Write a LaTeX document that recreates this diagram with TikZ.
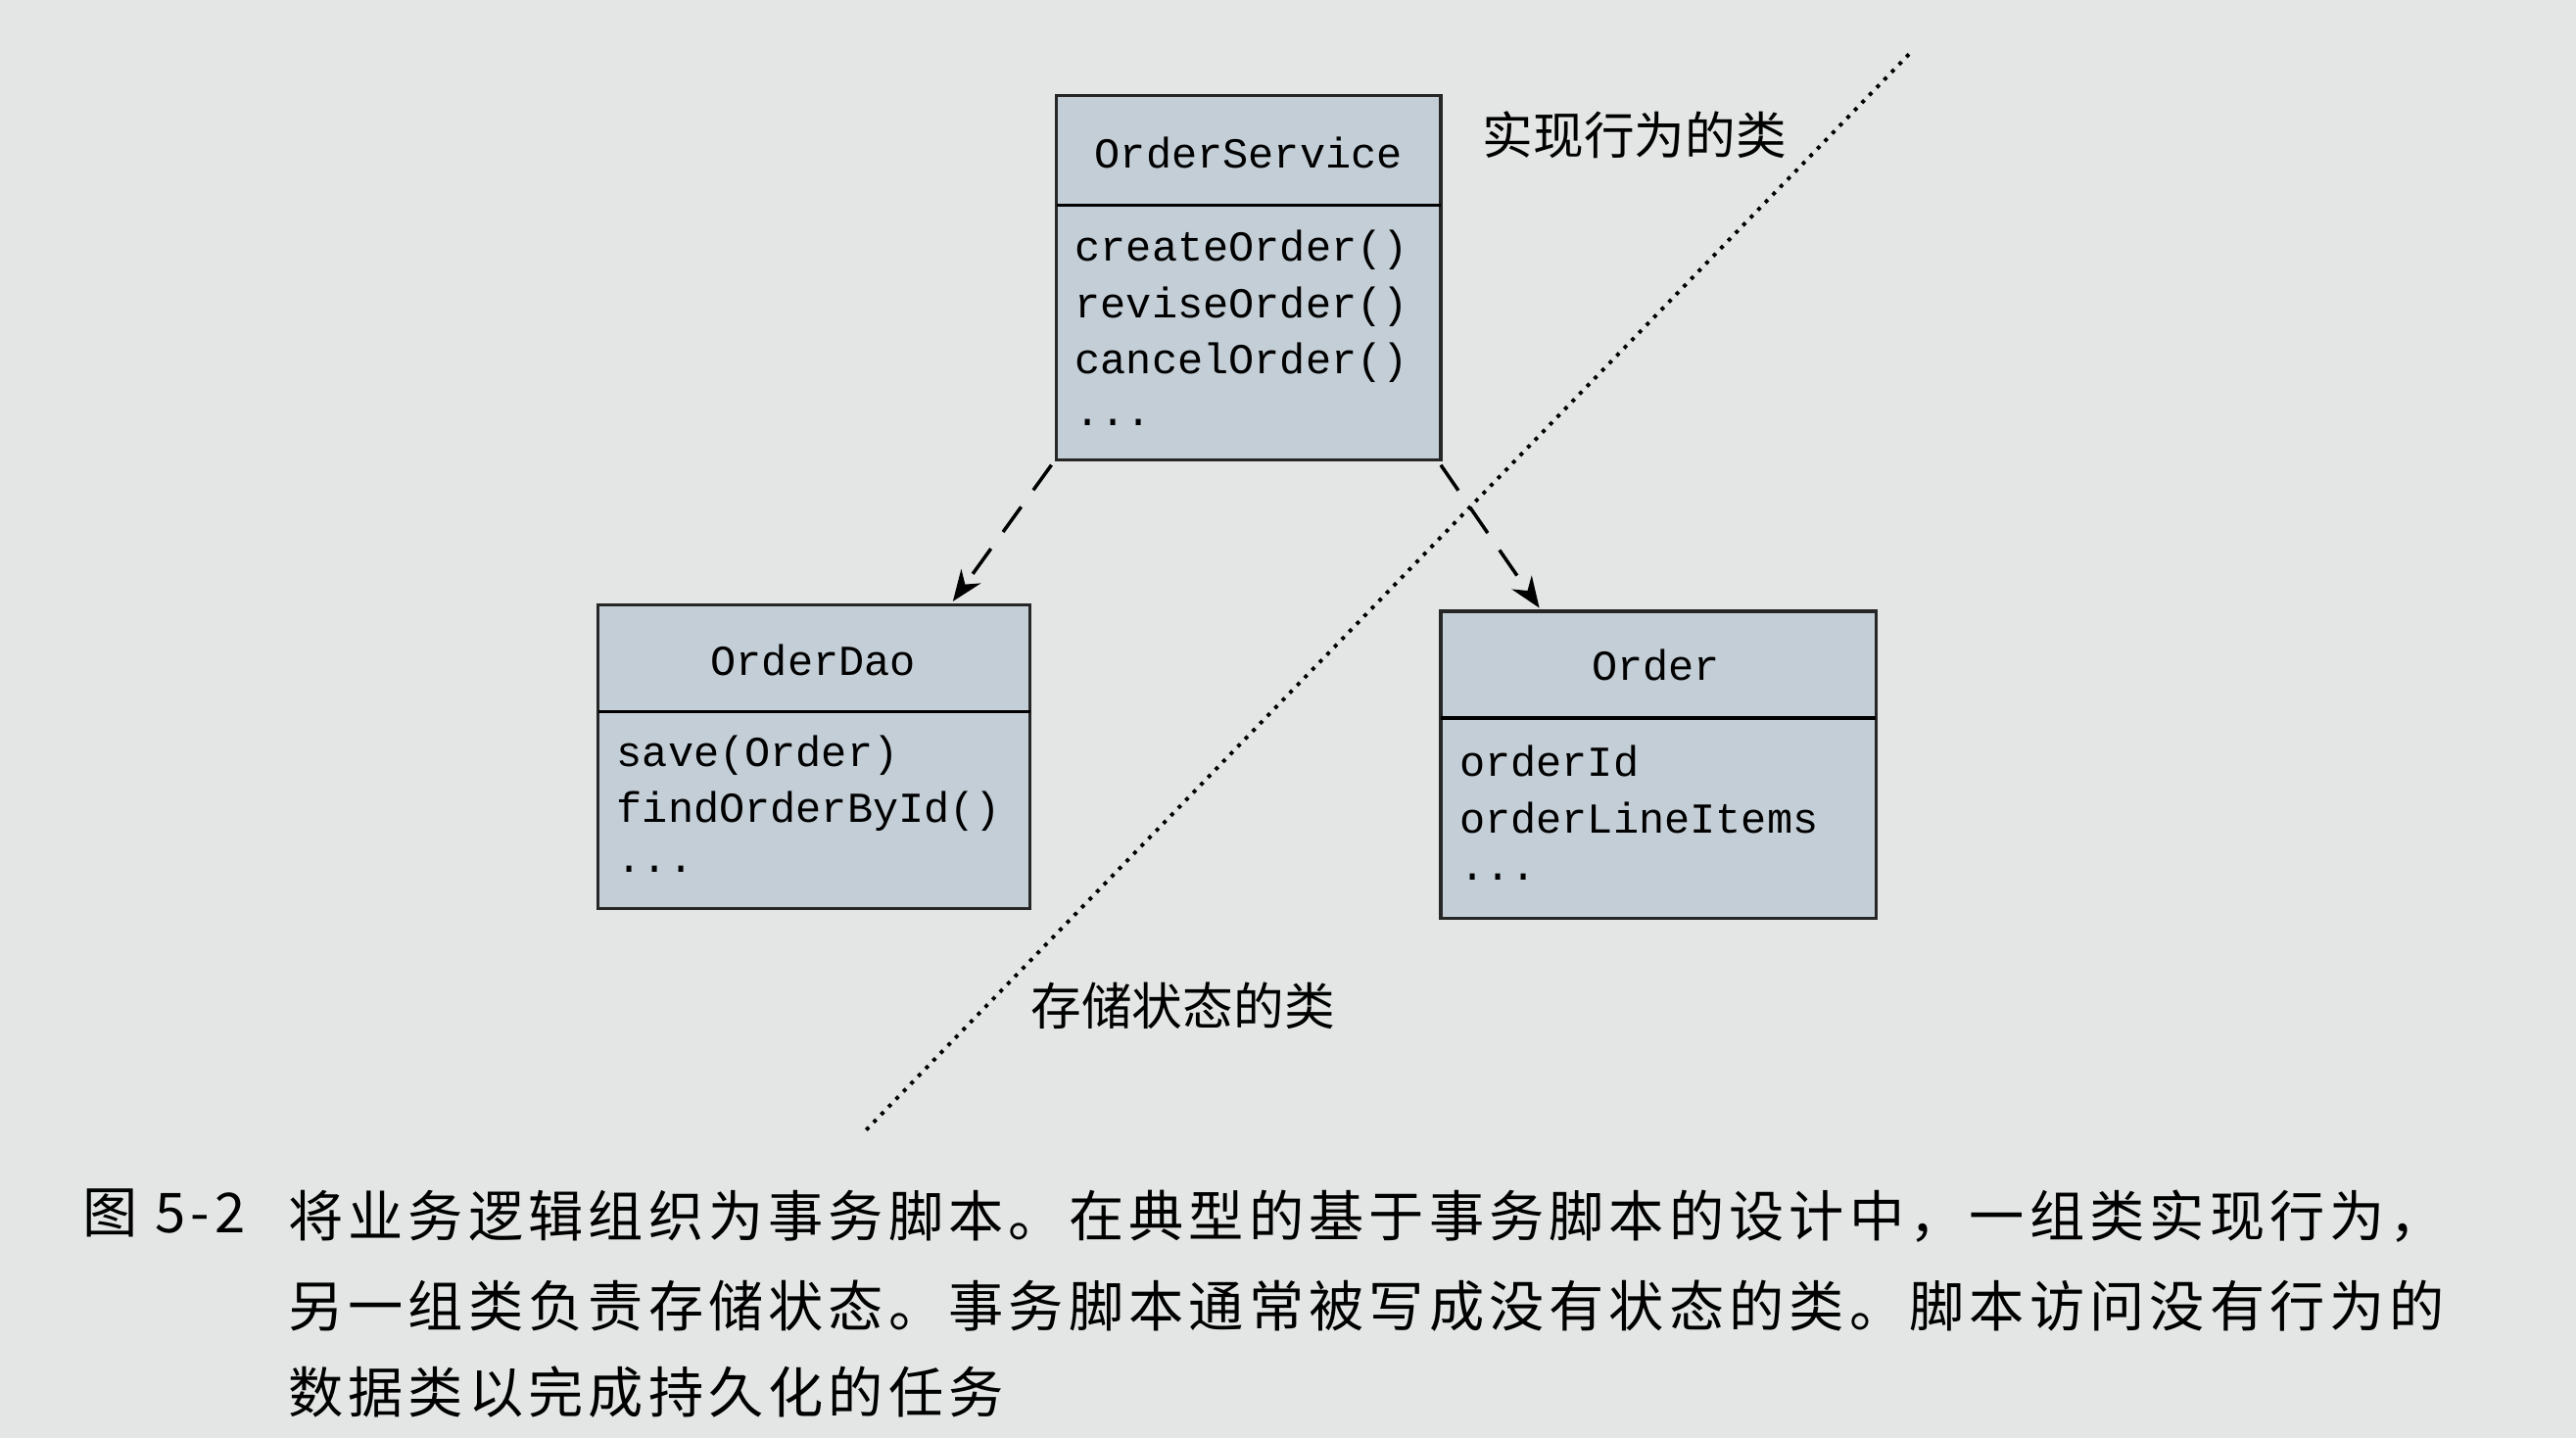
\documentclass[tikz,border=0pt]{standalone}
\usepackage{fontspec}
\setmonofont{Liberation Mono}
\newfontfamily\cjk{Noto Sans CJK SC}
\usetikzlibrary{arrows.meta}
\definecolor{bg}{HTML}{E4E6E6}
\definecolor{boxfill}{HTML}{C3CED6}
\begin{document}
\begin{tikzpicture}[x=0.016773cm,y=-0.016773cm,
  cls/.style={draw=black!85,line width=1pt,fill=boxfill},
  mem/.style={anchor=west,font=\fontsize{12.4}{14}\selectfont\ttfamily,inner sep=0},
  ttl/.style={font=\fontsize{12.4}{14}\selectfont\ttfamily,inner sep=0},
  lab/.style={font=\cjk\fontsize{14.7}{16}\selectfont,inner sep=0},
  captext/.style={anchor=west,inner sep=0,font=\cjk\addfontfeature{LetterSpace=9}\fontsize{16}{18}\selectfont},
  dep/.style={dashed,dash pattern=on 9pt off 6pt,line width=1pt,-{Stealth[length=9pt,width=7pt]}}]
\fill[bg] (0,0) rectangle (1568,875);
\useasboundingbox (0,0) rectangle (1568,875);
% OrderService
\draw[cls] (643,58) rectangle (877,280);
\draw[line width=1pt] (643,125) -- (877,125);
\node[ttl] (os) at (760,93) {OrderService};
\node[mem] (os1) at (654,152) {createOrder()};
\node[mem] (os2) at (654,187) {reviseOrder()};
\node[mem] (os3) at (654,221) {cancelOrder()};
\node[mem] (os4) at (654,257) {...};
% OrderDao
\draw[cls] (364,368) rectangle (627,553);
\draw[line width=1pt] (364,433) -- (627,433);
\node[ttl] (od) at (495,402) {OrderDao};
\node[mem] (od1) at (375,460) {save(Order)};
\node[mem] (od2) at (375,494) {findOrderById()};
\node[mem] (od3) at (375,529) {...};
% Order
\draw[cls] (877,372) rectangle (1142,559);
\draw[line width=1pt] (877,437) -- (1142,437);
\node[ttl] (o) at (1008,405) {Order};
\node[mem] (o1) at (888,463) {orderId};
\node[mem] (o2) at (888,498) {orderLineItems};
\node[mem] (o3) at (888,534) {...};
% connectors
\coordinate (a1) at (640,283); \coordinate (a2) at (580,366);
\coordinate (b1) at (877,283); \coordinate (b2) at (937,370);
\draw[dep] (a1) -- (a2);
\draw[dep] (b1) -- (b2);
\coordinate (d1) at (1162,33); \coordinate (d2) at (525,690);
\draw[dotted,line width=1.1pt] (d1) -- (d2);
\node[lab] (l1) at (995,82) {实现行为的类};
\node[lab] (l2) at (720,612) {存储状态的类};
% caption
\node[captext] (c0) at (50,738) {图 5-2};
\node[captext] (c1) at (175,740) {将业务逻辑组织为事务脚本。在典型的基于事务脚本的设计中，一组类实现行为，};
\node[captext] (c2) at (175,795) {另一组类负责存储状态。事务脚本通常被写成没有状态的类。脚本访问没有行为的};
\node[captext] (c3) at (175,847) {数据类以完成持久化的任务};
\end{tikzpicture}
\end{document}
